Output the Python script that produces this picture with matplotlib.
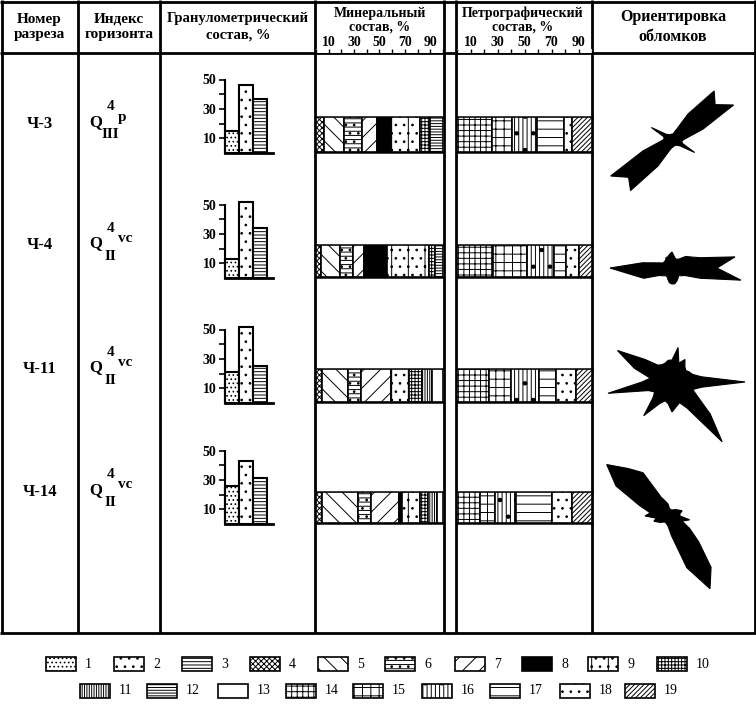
import numpy as np
import matplotlib.pyplot as plt
from matplotlib.patches import Rectangle

W, H = 756, 704
plt.rcParams['font.family'] = ['Liberation Serif', 'DejaVu Serif']
plt.rcParams['hatch.linewidth'] = 0.7

# ---- data ----
sections = ['Ч-3', 'Ч-4', 'Ч-11', 'Ч-14']
horizon_sub = ['III', 'II', 'II', 'II']
horizon_suffix = ['p', 'vc', 'vc', 'vc']

grain_types = [1, 2, 3]
grain_values = [[15, 46, 37], [13, 52, 34], [21, 52, 25], [26, 43, 31]]

mineral_types = [[4, 5, 6, 7, 8, 9, 10, 12],
                 [4, 5, 6, 7, 8, 9, 10, 12],
                 [4, 5, 6, 7, 9, 10, 11, 13],
                 [4, 5, 6, 7, 8, 9, 10, 11, 13]]
mineral_values = [[6, 16, 14, 12, 11, 23, 8, 10],
                  [4, 15, 10, 9, 18, 33, 5, 6],
                  [4.5, 21, 10, 23.5, 14, 10.5, 8, 8.5],
                  [5, 28, 10.5, 22, 2.5, 14, 6.5, 6.5, 5]]

petro_types = [14, 15, 16, 17, 18, 19]
petro_values = [[26, 15, 18.5, 20, 6, 14.5],
                [27, 25, 20, 8.5, 10, 9.5],
                [24, 16, 21, 12, 15, 12],
                [17, 11, 16, 26, 15, 15]]

scale_ticks = [10, 30, 50, 70, 90]

# rose diagrams: radius (px) every 10 degrees, clockwise from north
rose_angles = np.arange(0, 360, 10)
rose_radii = [
    [6, 8, 12, 30, 64, 55, 70, 32, 15, 10, 9, 10, 25, 9, 7, 6, 6, 6,
     7, 8, 12, 30, 66, 58, 72, 32, 15, 10, 9, 10, 25, 9, 7, 6, 6, 6],
    [16, 12, 10, 10, 12, 18, 22, 30, 64, 45, 70, 30, 15, 12, 10, 12, 14, 16,
     16, 15, 12, 10, 10, 12, 15, 30, 40, 62, 30, 15, 10, 10, 10, 12, 12, 14],
    [22, 35, 20, 26, 20, 18, 20, 22, 30, 73, 30, 22, 30, 50, 78, 30, 22, 25,
     30, 22, 20, 25, 44, 25, 20, 25, 65, 30, 22, 40, 63, 35, 22, 20, 20, 22],
    [12, 8, 7, 7, 8, 10, 12, 15, 12, 12, 22, 15, 25, 40, 67, 84, 55, 20,
     10, 8, 7, 7, 8, 10, 12, 15, 12, 23, 18, 30, 60, 80, 62, 50, 20, 15],
]

legend_ids = list(range(1, 20))
hatches = {1: '....', 2: '..', 3: '-----', 4: 'xxxxxx', 5: '\\\\', 6: '----..',
           7: '//', 8: None, 9: '|..', 10: '+++++', 11: '|||||||', 12: '------',
           13: '', 14: '+++', 15: '++', 16: '||||.', 17: '--', 18: '..', 19: '///////'}

# ---- layout (pixels) ----
row_top = [117, 245, 369, 492]
row_bot = [152, 277, 402, 523]
row_mid = [124, 245, 369, 492]
rose_center = [(673, 140), (672, 268), (672, 382), (668, 516)]
min_x = (316, 443)
pet_x = (457, 592)


def px_axes(x0, y0, x1, y1, **kw):
    return fig.add_axes([x0 / W, 1 - y1 / H, (x1 - x0) / W, (y1 - y0) / H], **kw)


def fill_kw(t):
    if t == 8:
        return dict(facecolor='black', edgecolor='black')
    return dict(facecolor='white', edgecolor='black', hatch=hatches[t])


fig = plt.figure(figsize=(W / 100, H / 100), dpi=100)
base = px_axes(0, 0, W, H)
base.set_xlim(0, W)
base.set_ylim(H, 0)
base.axis('off')

# table grid
lw = 2.0
for x in [1.5, 78, 160, 315, 444, 456, 592, 754.5]:
    base.plot([x, x], [0, 633], color='black', lw=lw, solid_capstyle='butt')
for y in [1.5, 53, 633]:
    base.plot([0, W], [y, y], color='black', lw=lw, solid_capstyle='butt')

bold = dict(fontweight='bold', ha='center', va='center', color='black')
base.text(39, 27, 'Номер\nразреза', fontsize=11, linespacing=1.25, **bold)
base.text(119, 27, 'Индекс\nгоризонта', fontsize=11, linespacing=1.25, **bold)
base.text(238, 27, 'Гранулометрический\nсостав, %', fontsize=10.5, linespacing=1.35, **bold)
base.text(380, 20, 'Минеральный\nсостав, %', fontsize=10, linespacing=1.1, **bold)
base.text(523, 20, 'Петрографический\nсостав, %', fontsize=10, linespacing=1.1, **bold)
base.text(673, 27, 'Ориентировка\nобломков', fontsize=11.5, linespacing=1.3, **bold)

for x0, x1 in [min_x, pet_x]:
    ax = px_axes(x0, 49, x1, 53)
    ax.set_xlim(0, 100)
    ax.set_ylim(0, 1)
    for s in ax.spines.values():
        s.set_visible(False)
    ax.set_yticks([])
    ax.set_xticks(scale_ticks)
    ax.set_xticklabels([str(v) for v in scale_ticks], fontweight='bold', fontsize=10)
    ax.set_xticks(np.arange(0, 101, 10), minor=True)
    ax.tick_params(axis='x', which='both', bottom=True, top=False, labelbottom=False,
                   labeltop=True, direction='in', length=3, width=1, pad=0)

for i in range(4):
    # section and horizon labels
    base.text(40, row_mid[i], sections[i], fontsize=12, **bold)
    base.text(96, row_mid[i] - 2, 'Q', fontsize=12, **bold)
    base.text(111, row_mid[i] - 17, '4', fontsize=11, **bold)
    base.text(110, row_mid[i] + 11, horizon_sub[i], fontsize=11, **bold)
    base.text(118, row_mid[i] - 7, horizon_suffix[i],
              fontsize=11, fontweight='bold', ha='left', va='center')

    # grain size bars
    b0 = row_bot[i] + 1
    ax = px_axes(225, b0 - 73.5, 273, b0)
    ax.bar(range(3), grain_values[i], width=1.0, color='white', edgecolor='black',
           lw=1.5, clip_on=False)
    for k, p in enumerate(ax.patches):
        p.set_hatch(hatches[grain_types[k]])
    ax.set_xlim(-0.5, 2.9)
    ax.set_ylim(0, 50)
    ax.spines['top'].set_visible(False)
    ax.spines['right'].set_visible(False)
    ax.spines['left'].set_linewidth(1.5)
    ax.spines['bottom'].set_linewidth(2)
    ax.set_xticks([])
    ax.set_yticks([10, 30, 50])
    ax.set_yticklabels(['10', '30', '50'], fontweight='bold', fontsize=10)
    ax.set_yticks([20, 40], minor=True)
    ax.tick_params(axis='y', which='both', length=4, width=1.2, pad=2)

    # mineral and petrographic composition
    for (x0, x1), types, vals in [(min_x, mineral_types[i], mineral_values[i]),
                                  (pet_x, petro_types, petro_values[i])]:
        ax = px_axes(x0, row_top[i], x1, row_bot[i])
        left = 0
        for t, v in zip(types, vals):
            ax.barh(0.5, v, left=left, height=1.0, lw=1.2, **fill_kw(t))
            left += v
        ax.set_xlim(0, 100)
        ax.set_ylim(0, 1)
        ax.axis('off')
        base.plot([x0, x1], [row_top[i], row_top[i]], color='black', lw=1.8)
        base.plot([x0, x1], [row_bot[i], row_bot[i]], color='black', lw=1.8)

    # rose diagram
    cx, cy = rose_center[i]
    R = 95
    ax = px_axes(cx - R, cy - R, cx + R, cy + R, projection='polar')
    ax.set_theta_zero_location('N')
    ax.set_theta_direction(-1)
    th = np.deg2rad(np.append(rose_angles, rose_angles[0]))
    rr = np.append(rose_radii[i], rose_radii[i][0])
    ax.fill(th, rr, color='black', lw=0.8)
    ax.set_ylim(0, R)
    ax.axis('off')

# legend
row1_x = [46, 114, 182, 250, 318, 385, 455, 522, 588, 657]
row2_x = [80, 147, 218, 286, 353, 422, 490, 560, 625]
for n, t in enumerate(legend_ids):
    if n < 10:
        x, y = row1_x[n], 657
    else:
        x, y = row2_x[n - 10], 684
    base.add_patch(Rectangle((x, y), 30, 14, lw=1.2, **fill_kw(t)))
    base.text(x + 39, y + 7, str(t), fontsize=10, ha='left', va='center')

fig.savefig('out.png', dpi=100)
